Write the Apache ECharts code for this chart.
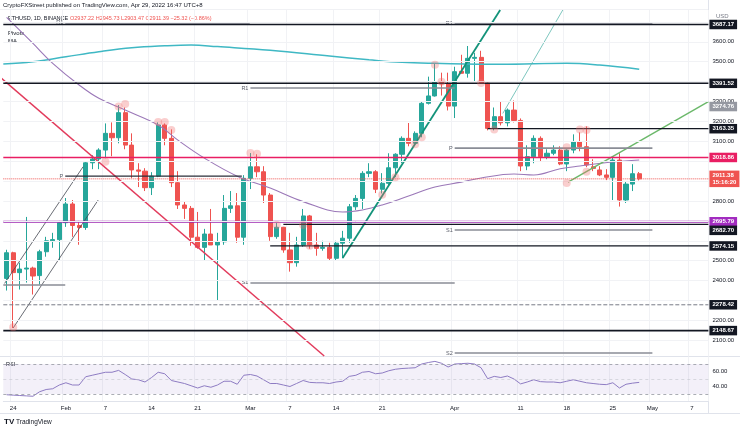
<!DOCTYPE html>
<html>
<head>
<meta charset="utf-8">
<script src="https://cdn.jsdelivr.net/npm/echarts@6/dist/echarts.min.js"></script>
<style>
html, body { margin: 0; padding: 0; background: #fff; }
#chart { width: 740px; height: 435px; }
</style>
</head>
<body>
<div id="chart"></div>
<script>
// ETHUSD 1D (Binance), 23 Jan .. 29 Apr 2022, axis runs on to 8 May
const startDay = [2022, 0, 23];
const dayCount = 107;

const opens = [2411,2540,2440,2458,2463,2425,2545,2600,2606,2691,2785,2677,2667,2992,3011,3056,3140,3118,3244,3081,
  2956,2950,2867,2925,3182,3115,2892,2780,2763,2618,2567,2634,2579,2595,2763,2776,2618,2914,2972,2947,
  2830,2621,2668,2554,2490,2579,2725,2579,2562,2567,2512,2588,2613,2771,2813,2939,2947,2859,2889,2967,
  3035,3115,3090,3140,3291,3328,3400,3388,3277,3452,3442,3517,3522,3392,3165,3224,3193,3257,3205,2976,
  3023,3115,3023,3040,3056,2986,3056,3098,3073,2972,2956,2931,2919,3006,2805,2885,2937.22];
const highs = [2555,2545,2490,2720,2470,2555,2620,2640,2700,2815,2805,2700,3000,3030,3065,3190,3195,3282,3270,3140,
  2990,2965,2945,3195,3190,3160,2950,2800,2775,2745,2660,2760,2640,2830,2850,2840,2930,3041,3035,2975,
  2840,2690,2670,2640,2620,2760,2730,2640,2600,2590,2600,2650,2785,2830,2950,2990,2955,2940,3040,3040,
  3125,3192,3150,3300,3425,3493,3445,3445,3475,3535,3579,3545,3555,3395,3270,3300,3265,3305,3215,3080,
  3130,3125,3060,3080,3075,3060,3135,3145,3175,3010,2975,2960,3025,3040,2900,2985,2945.73];
const lows = [2350,2162,2355,2390,2330,2380,2520,2565,2500,2670,2620,2580,2655,2960,2960,3015,3025,3090,3060,2915,
  2870,2850,2830,2920,3080,2870,2760,2710,2575,2560,2500,2580,2300,2580,2740,2590,2580,2860,2920,2790,
  2600,2610,2540,2445,2470,2570,2560,2525,2550,2500,2500,2512,2590,2755,2760,2920,2840,2838,2880,2920,
  2990,3075,3085,3120,3285,3325,3330,3255,3217,3440,3420,3400,3390,3155,3155,3180,3175,3195,2950,2955,
  2990,3000,3010,3030,2980,2950,3040,3050,2970,2950,2925,2905,2805,2772,2790,2850,2903.47];
const closes = [2540,2440,2458,2463,2423,2545,2600,2606,2691,2785,2677,2667,2992,3011,3056,3140,3118,3244,3081,2956,
  2950,2867,2925,3182,3115,2892,2780,2763,2618,2567,2634,2579,2595,2763,2776,2618,2914,2972,2947,2830,
  2621,2668,2554,2490,2579,2725,2579,2562,2567,2512,2588,2613,2771,2813,2939,2947,2859,2889,2967,3035,
  3115,3090,3140,3291,3328,3400,3388,3277,3450,3442,3517,3522,3392,3165,3224,3193,3257,3205,2976,3023,
  3115,3023,3040,3056,2986,3056,3098,3073,2981,2964,2931,2919,3006,2805,2885,2937.22,2911.38];

const rsi = [29,28.5,28,27.5,27,33,36,37,42,45,42,42,53,55,57,59,59,61.5,56,50,
  49,46,52,59,57,48,46,44,41,38,41,39,42,47,47,43,55,56,54,49,
  44,44,42,40,44,48,45.5,45,45,44,46,47,53.5,55,59,60,57,58,61,63,
  64,64.5,65,70,72,73.5,71,66,70,70.5,71,70,65,50.4,53.5,52,54,50,43.5,46,
  49,46.5,46,46,45,47,49,47,45,44,43,42.5,45,38,43,44.5,45.5];

// moving averages: [day index, price]
const maSlow = [[-0.5,3488],[4,3500],[9,3525],[14,3550],[19,3570],[24,3580],[28,3584],[32,3576],[40,3558],
  [49,3529],[55,3510],[60,3497],[65,3492],[75,3487],[85,3492],[90,3483],[96,3462]];
const maFast = [[0,3723],[4,3592],[7,3492],[11,3383],[14,3316],[18,3257],[23,3182],[26,3106],[30,3016],
  [35,2925],[40,2865],[45,2797],[51,2745],[54,2755],[57,2780],[61,2825],[65,2870],[69,2895],[72,2916],
  [77,2936],[80,2931],[84,2962],[87,2976],[92,2996],[96,3006]];

// drawn trend lines, [day index, price] end points
const redTrend = [[-1,3423],[48.2,2021]];
const tealTrend = [[51,2514],[74.9,3760]];
const thinTeal = [[75.3,3240],[84.4,3760]];
const greenTrend = [[85.2,2895],[106.5,3300]];
const channelTop = [[-0.3,2386],[11.6,2972]];
const channelBottom = [[1,2162],[13.9,2805]];

// monthly pivots
const pivotNames = ['', 'R1', 'P', 'R1', 'S1', 'R1', 'P', 'S1', 'S2'];
const pivotPrices = [2378, 3695, 2925, 3368, 2388, 3690, 3066, 2654, 2036];
const pivotFrom = [-0.5, 8.9, 8.9, 37, 37, 68, 68, 68, 68];
const pivotTo = [8.9, 36.9, 35.7, 68, 68, 98, 98, 98, 98];

// horizontal levels with their price tags
const levelPrices = [3687.17, 3391.52, 3274.76, 3163.35, 3018.86, 2911.38, 2695.79, 2682.70, 2574.15, 2278.42, 2148.67];
const levelFrom = [-0.5, -0.5, 106.3, 73, -0.5, -0.5, -0.5, 42, 40, -0.5, -0.5];
const levelTags = ['3687.17', '3391.52', '3274.76', '3163.35', '3018.86', '2911.38\n15:16:20', '2695.79', '2682.70', '2574.15', '2278.42', '2148.67'];

// touch markers
const markerDays = [1,15,17,18,23,24,25,37,38,41,45,46,57,59,62,63,65,66,72,74,85,85,87,88,88];
const markerPrices = [2165,2997,3275,3287,3197,3197,3157,3041,3038,2680,2680,2575,2832,2920,3085,3120,3485,3400,3393,3160,3070,2890,3160,3157,2947];

const priceTicks = [2100, 2200, 2400, 2500, 2800, 3100, 3200, 3300, 3500, 3600];
const gridPrices = [2100,2200,2300,2400,2500,2600,2700,2800,2900,3000,3100,3200,3300,3400,3500,3600,3700];
const xTickDates = ['2022-01-24','2022-02-01','2022-02-07','2022-02-14','2022-02-21','2022-03-01','2022-03-07',
  '2022-03-14','2022-03-21','2022-04-01','2022-04-11','2022-04-18','2022-04-25','2022-05-01','2022-05-07'];
const xTickText = ['24','Feb','7','14','21','Mar','7','14','21','Apr','11','18','25','May','7'];

const days = [];
for (let i = 0; i < dayCount; i++) {
  days.push(new Date(Date.UTC(startDay[0], startDay[1], startDay[2] + i)).toISOString().slice(0, 10));
}
const tickMap = {};
xTickDates.forEach((d, i) => { tickMap[d] = xTickText[i]; });
const isTick = (idx, val) => tickMap[val] !== undefined;

const font = '"Liberation Sans", Arial, sans-serif';
const up = '#26a69a', down = '#ef5350';

const levelLook = [
  { c: '#131722', w: 1.6 }, { c: '#131722', w: 1.6 }, { c: '#9598a1', w: 0 },
  { c: '#131722', w: 1.2 }, { c: '#e91e63', w: 1.6 }, { c: '#ef5350', w: 1, t: 'dotted' },
  { c: '#9c27b0', w: 2, bg: '#a22cc0' }, { c: '#131722', w: 1.2, dy: 6 }, { c: '#131722', w: 1.2 },
  { c: '#787b86', w: 1, t: 'dashed', bg: '#131722' }, { c: '#131722', w: 1.6 }
];

const series = [];

series.push({
  type: 'candlestick', xAxisIndex: 0, yAxisIndex: 0,
  data: opens.map((o, i) => [o, closes[i], lows[i], highs[i]]),
  barWidth: 4.6,
  itemStyle: { color: up, color0: down, borderColor: up, borderColor0: down, borderWidth: 1 },
  markLine: {
    silent: true, symbol: 'none', label: { show: false },
    lineStyle: { color: '#f1f2f5', width: 1, type: 'solid' },
    data: gridPrices.map(p => ({ yAxis: p }))
  }
});

function segment(points, color, width, extra) {
  return Object.assign({
    type: 'line', xAxisIndex: 2, yAxisIndex: 0, data: points, symbol: 'none',
    lineStyle: { color: color, width: width }, silent: true, z: 3
  }, extra || {});
}

series.push(segment(maSlow, '#3fb8c4', 1.5, { smooth: 0.4 }));
series.push(segment(maFast, '#9b78b8', 1.1, { smooth: 0.4 }));
series.push(segment(redTrend, '#e23b5c', 1.5));
series.push(segment(tealTrend, '#13937a', 1.8));
series.push(segment(thinTeal, '#5cb8ad', 0.8));
series.push(segment(greenTrend, '#6bb86a', 1.4));
series.push(segment(channelTop, '#434651', 0.8));
series.push(segment(channelBottom, '#434651', 0.8));

pivotPrices.forEach((p, i) => {
  const dark = i === 2;
  series.push({
    type: 'line', xAxisIndex: 2, yAxisIndex: 0, silent: true, z: 3,
    symbol: 'circle', symbolSize: 0, showSymbol: true,
    lineStyle: { color: dark ? '#2a2e39' : '#8a8d96', width: dark ? 1.3 : 1.6 },
    data: [
      { value: [pivotFrom[i], p], label: { show: pivotNames[i] !== '', formatter: pivotNames[i], position: 'left', distance: 2, fontSize: 5.5, color: '#5d606b', fontFamily: font } },
      [pivotTo[i], p]
    ]
  });
});

levelPrices.forEach((p, i) => {
  const look = levelLook[i];
  series.push({
    type: 'line', xAxisIndex: 2, yAxisIndex: 0, silent: true, z: 4, symbol: 'none',
    data: [[levelFrom[i], p], [106.5, p]],
    lineStyle: { color: look.c, width: look.w, type: look.t || 'solid', opacity: look.w ? 1 : 0 },
    endLabel: {
      show: true, formatter: levelTags[i], color: '#fff', backgroundColor: look.bg || look.c,
      fontSize: 6, fontWeight: 'bold', fontFamily: font, lineHeight: 7, padding: [1.5, 3, 1, 3],
      distance: 1, offset: [0, look.dy || 0], align: 'left'
    }
  });
});

series.push({
  type: 'scatter', xAxisIndex: 2, yAxisIndex: 0, silent: true, z: 5,
  data: markerDays.map((d, i) => [d, markerPrices[i]]),
  symbolSize: 8, itemStyle: { color: 'rgba(240,110,110,0.42)' }
});

series.push({
  type: 'line', xAxisIndex: 1, yAxisIndex: 1, data: rsi, symbol: 'none', silent: true,
  lineStyle: { color: '#8e7cc3', width: 1 },
  markArea: { silent: true, itemStyle: { color: 'rgba(126,87,194,0.09)' }, data: [[{ yAxis: 30 }, { yAxis: 70 }]] },
  markLine: {
    silent: true, symbol: 'none', label: { show: false },
    data: [
      { yAxis: 70, lineStyle: { color: '#9598a1', type: [3, 3], width: 0.8 } },
      { yAxis: 50, lineStyle: { color: '#c3c5cc', type: [3, 3], width: 0.6 } },
      { yAxis: 30, lineStyle: { color: '#9598a1', type: [3, 3], width: 0.8 } }
    ]
  }
});

const axisText = { fontSize: 6, color: '#131722', fontFamily: font };

const option = {
  animation: false,
  backgroundColor: '#fff',
  textStyle: { fontFamily: font },
  grid: [
    { left: 3.3, width: 705.1, top: 10, height: 346.2 },
    { left: 3.3, width: 705.1, top: 356.5, height: 45 }
  ],
  xAxis: [
    { type: 'category', gridIndex: 0, data: days, boundaryGap: true,
      axisLine: { show: false }, axisTick: { show: false }, axisLabel: { show: false },
      splitLine: { show: true, interval: isTick, lineStyle: { color: '#f1f2f5' } } },
    { type: 'category', gridIndex: 1, data: days, boundaryGap: true,
      axisLine: { show: true, lineStyle: { color: '#e0e3eb' } }, axisTick: { show: false },
      axisLabel: Object.assign({ interval: isTick, formatter: v => tickMap[v] || '', margin: 4 }, axisText),
      splitLine: { show: true, interval: isTick, lineStyle: { color: '#f1f2f5' } } },
    { type: 'value', gridIndex: 0, min: -0.5, max: 106.5, show: false }
  ],
  yAxis: [
    { type: 'value', gridIndex: 0, position: 'right', min: 2020, max: 3760, interval: 20,
      axisLine: { show: false }, axisTick: { show: false }, splitLine: { show: false },
      axisLabel: Object.assign({ margin: 4, formatter: v => priceTicks.indexOf(v) >= 0 ? v.toFixed(2) : '' }, axisText) },
    { type: 'value', gridIndex: 1, position: 'right', min: 20, max: 80, interval: 20,
      axisLine: { show: false }, axisTick: { show: false }, splitLine: { show: false },
      axisLabel: Object.assign({ margin: 4, formatter: v => (v === 40 || v === 60) ? v.toFixed(2) : '' }, axisText) }
  ],
  graphic: [
    { type: 'line', shape: { x1: 708.5, y1: 0, x2: 708.5, y2: 413 }, style: { stroke: '#e0e3eb', lineWidth: 1 }, silent: true },
    { type: 'line', shape: { x1: 0, y1: 356.5, x2: 740, y2: 356.5 }, style: { stroke: '#e0e3eb', lineWidth: 1 }, silent: true },
    { type: 'line', shape: { x1: 0, y1: 413.5, x2: 740, y2: 413.5 }, style: { stroke: '#e0e3eb', lineWidth: 1 }, silent: true },
    { type: 'line', shape: { x1: 0, y1: 9.5, x2: 708, y2: 9.5 }, style: { stroke: '#f0f1f4', lineWidth: 1 }, silent: true },
    { type: 'text', left: 3, top: 2, silent: true, style: { text: 'CryptoFXStreet published on TradingView.com, Apr 29, 2022 16:47 UTC+8', fontSize: 6, fill: '#131722', fontFamily: font } },
    { type: 'text', left: 8, top: 15, silent: true, style: { text: 'ETHUSD, 1D, BINANCE', fontSize: 5.5, fill: '#131722', fontFamily: font } },
    { type: 'text', left: 70, top: 15, silent: true, style: { text: 'O2937.22 H2945.73 L2903.47 C2911.39 \u221225.32 (\u22120.86%)', fontSize: 5.5, fill: '#ef5350', fontFamily: font } },
    { type: 'text', left: 8, top: 30, silent: true, style: { text: 'Pivots', fontSize: 6, fill: '#131722', fontFamily: font } },
    { type: 'text', left: 8, top: 38, silent: true, style: { text: 'MA', fontSize: 6, fill: '#131722', fontFamily: font } },
    { type: 'text', left: 716, top: 13, silent: true, style: { text: 'USD', fontSize: 6, fill: '#787b86', fontFamily: font } },
    { type: 'text', left: 6, top: 361, silent: true, style: { text: 'RSI', fontSize: 5.5, fill: '#131722', fontFamily: font } },
    { type: 'text', left: 4, top: 418, silent: true, style: { text: 'TV', fontSize: 8, fontWeight: 'bold', fill: '#131722', fontFamily: font } },
    { type: 'text', left: 16, top: 419, silent: true, style: { text: 'TradingView', fontSize: 6.5, fill: '#131722', fontFamily: font } }
  ],
  series: series
};

const chart = echarts.init(document.getElementById('chart'));
chart.setOption(option);
</script>
</body>
</html>
